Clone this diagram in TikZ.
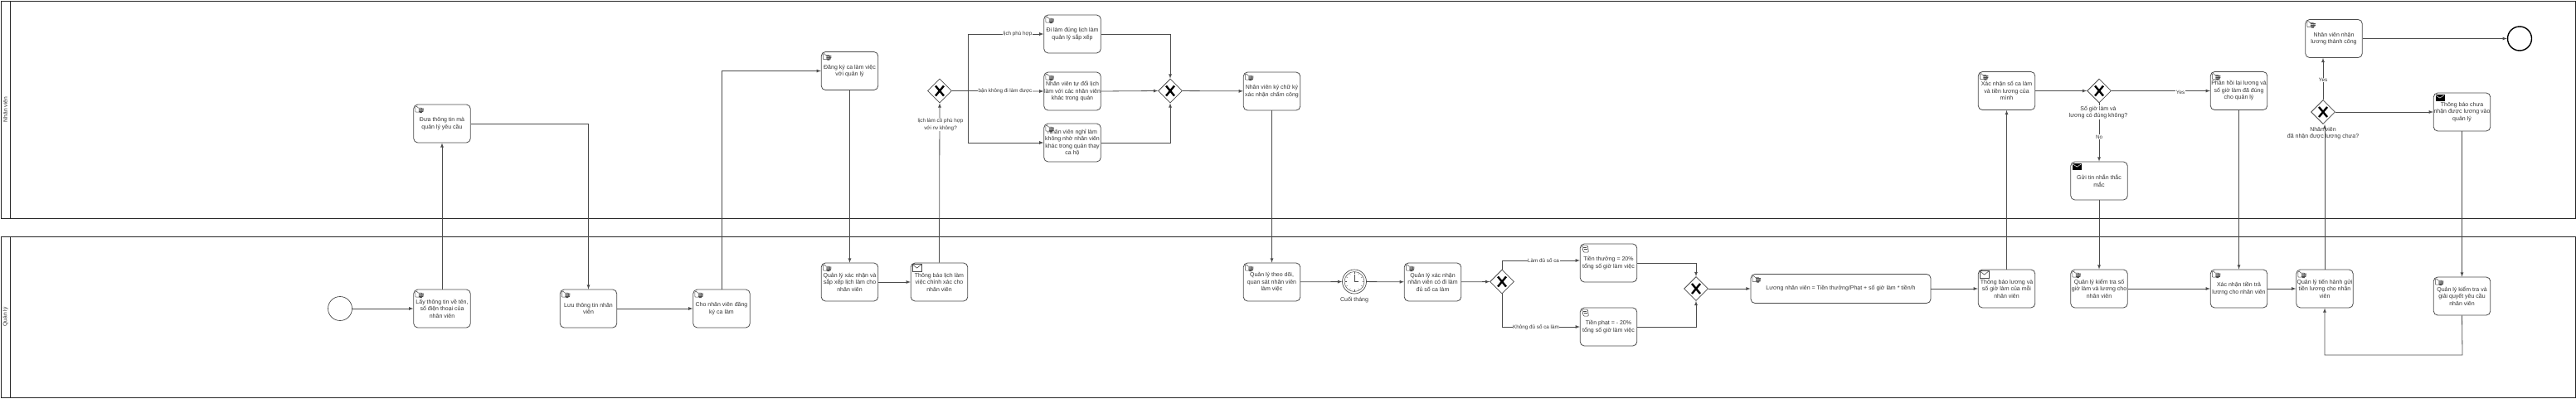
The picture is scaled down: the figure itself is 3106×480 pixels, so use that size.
\documentclass[tikz,border=0pt]{standalone}
\usepackage{fontspec}
\setmainfont{Liberation Sans}
\usetikzlibrary{shapes.geometric}
\definecolor{linegray}{gray}{0.3}
\definecolor{textgray}{gray}{0.2}
\tikzset{
	lane/.style={draw=black!85,line width=.9pt},
	lanetext/.style={rotate=90,text=textgray,font=\fontsize{6.7}{8}\selectfont},
	task/.style={draw=linegray,line width=.8pt,rounded corners=5pt,fill=white,minimum width=68.5pt,minimum height=46pt,inner sep=0pt,align=center,text=textgray,font=\fontsize{7}{8.5}\selectfont},
	gw/.style={draw=linegray,line width=.8pt,diamond,aspect=1,minimum width=29pt,minimum height=29pt,inner sep=0pt,fill=white},
	evt/.style={draw=linegray,line width=.7pt,circle,minimum size=29pt,inner sep=0pt},
	flow/.style={draw=linegray,line width=.8pt,-latex},
	plain/.style={draw=linegray,line width=.8pt},
	flowtext/.style={fill=white,inner sep=.6pt,align=center,text=textgray,font=\fontsize{6.3}{8.5}\selectfont},
	gwtext/.style={inner sep=0pt,align=center,text=textgray,font=\fontsize{7}{8.2}\selectfont},
	handicon/.pic={
		\draw[linegray,line width=.5pt,fill=white,rounded corners=.8pt] (0,0) -- (0,7) -- (8,7) -- (8,2) -- (3,2) -- (2,0) -- cycle;
		\fill[linegray] (4,2.6) rectangle (10,3.6) (4,4.2) rectangle (10,5.2) (4,5.8) rectangle (9.5,6.8) (8,7) rectangle (5,8);
	},
	scrollicon/.pic={
		\draw[linegray,line width=.6pt,fill=white,rounded corners=1pt] (0,0) -- (7,0) -- (8,8) -- (2,8) -- cycle;
		\draw[linegray,line width=.4pt] (2,2.5) -- (6,2.5) (2.5,4.5) -- (6.5,4.5);
	},
	mailicon/.pic={
		\draw[linegray,line width=.6pt,fill=white] (0,0) rectangle (11.5,8.5);
		\draw[linegray,line width=.6pt] (0,0) -- (5.75,4.5) -- (11.5,0);
	},
	mailfill/.pic={
		\draw[black,line width=.4pt,fill=black] (0,0) rectangle (10,7);
		\draw[white,line width=.5pt] (0,.8) -- (5,4) -- (10,.8);
	},
}
\begin{document}
\begin{tikzpicture}[x=1pt,y=-1pt]
	\useasboundingbox (0,0) rectangle (3106,480);
	%
	\draw[lane] (1,1) rectangle (3105,263);
	\draw[lane] (12,1) -- (12,263);
	\draw[lane] (1,285) rectangle (3105,479);
	\draw[lane] (12,285) -- (12,479);
	\node[lanetext] (nv) at (6.5,132) {Nhân viên};
	\node[lanetext] (ql) at (6.5,382) {Quản lý};
	%
	\node[evt] (start) at (410,372) {};
	\node[task] (a) at (533,149) {Đưa thông tin mà\\quản lý yêu cầu};
	\node[task] (b) at (533,372) {Lấy thông tin về tên,\\số điện thoại của\\nhân viên};
	\node[task] (c) at (709.5,372) {Lưu thông tin nhân\\viên};
	\node[task] (d) at (870,372) {Cho nhân viên đăng\\ký ca làm};
	\node[task] (e) at (1024.5,85.5) {Đăng ký ca làm việc\\với quản lý};
	\node[task] (f) at (1024.5,340) {Quản lý xác nhận và\\sắp xếp lịch làm cho\\nhân viên};
	\node[task] (g) at (1132.5,340) {Thông báo lịch làm\\việc chính xác cho\\nhân viên};
	\node[gw] (gwa) at (1133,109.5) {};
	\node[task] (h1) at (1293,41) {Đi làm đúng lịch làm\\quản lý sắp xếp};
	\node[task] (h2) at (1293,110) {Nhân viên tự đổi lịch\\làm với các nhân viên\\khác trong quán};
	\node[task] (h3) at (1293,172) {Nhân viên nghỉ làm\\không nhờ nhân viên\\khác trong quán thay\\ca hộ};
	\node[gw] (gwb) at (1411,109.5) {};
	\node[task] (i) at (1533.5,110) {Nhân viên ký chữ ký\\xác nhận chấm công};
	\node[task] (j) at (1533.5,340) {Quản lý theo dõi,\\quan sát nhân viên\\làm việc};
	\node[evt] (clk) at (1633,339.5) {};
	\node[gwtext] (cuoi) at (1633,361.5) {Cuối tháng};
	\node[task] (k) at (1727.5,340) {Quản lý xác nhận\\nhân viên có đi làm\\đủ số ca làm};
	\node[gw] (gwc) at (1811,339.5) {};
	\node[task] (l) at (1939.5,317) {Tiền thưởng = 20\%\\tổng số giờ làm việc};
	\node[task] (m) at (1939.5,394) {Tiền phạt = - 20\%\\tổng số giờ làm việc};
	\node[gw] (gwd) at (2045,348) {};
	\node[task,minimum width=217pt,minimum height=35pt] (n) at (2219.5,348) {Lương nhân viên = Tiền thưởng/Phạt + số giờ làm * tiền/h};
	\node[task] (o) at (2419.5,348) {Thông báo lương và\\số giờ làm của mỗi\\nhân viên};
	\node[task] (p) at (2531,348) {Quản lý kiểm tra số\\giờ làm và lương cho\\nhân viên};
	\node[task] (q) at (2699.5,348) {Xác nhận tiền trả\\lương cho nhân viên};
	\node[task] (r) at (2803,348) {Quản lý tiến hành gửi\\tiền lương cho nhân\\viên};
	\node[task] (s) at (2968.5,357) {Quản lý kiểm tra và\\giải quyết yêu cầu\\nhân viên};
	\node[task] (t) at (2419.5,109.5) {Xác nhận số ca làm\\và tiền lương của\\mình};
	\node[gw] (gwe) at (2531,109.5) {};
	\node[task] (u) at (2531,218) {Gửi tin nhắn thắc\\mắc};
	\node[task] (v) at (2699.5,109.5) {Phản hồi lại lương và\\số giờ làm đã đúng\\cho quản lý};
	\node[gw] (gwf) at (2801,135) {};
	\node[task] (w) at (2814,46.5) {Nhân viên nhận\\lương thành công};
	\node[task] (x) at (2968.5,135) {Thông báo chưa\\nhận được lương vào\\quản lý};
	\node[evt,line width=1.4pt,draw=black] (stop) at (3038,46.5) {};
	%
	\coordinate (bra) at (1167,109.5);
	\coordinate (lop) at (2969,428);
	%
	\draw[flow] (start) -- (b);
	\draw[flow] (b) -- (a);
	\draw[flow] (a.east) -| (c.north);
	\draw[flow] (c) -- (d);
	\draw[flow] (d.north) |- (e.west);
	\draw[flow] (e) -- (f);
	\draw[flow] (f) -- (g);
	\draw[flow] (g.north) -- (gwa.south);
	\draw[plain] (gwa.east) -- (bra);
	\draw[flow] (bra) |- (h1.west);
	\draw[flow] (bra) -- (h2.west);
	\draw[flow] (bra) |- (h3.west);
	\draw[flow] (h1.east) -| (gwb.north);
	\draw[flow] (h2.east) -- (gwb.west);
	\draw[flow] (h3.east) -| (gwb.south);
	\draw[flow] (gwb) -- (i);
	\draw[flow] (i) -- (j);
	\draw[flow] (j) -- (clk);
	\draw[flow] (clk) -- (k);
	\draw[flow] (k) -- (gwc);
	\draw[flow] (gwc.north) |- ([yshift=3pt]l.west);
	\draw[flow] (gwc.south) |- (m.west);
	\draw[flow] (l.east) -| (gwd.north);
	\draw[flow] (m.east) -| (gwd.south);
	\draw[flow] (gwd) -- (n);
	\draw[flow] (n) -- (o);
	\draw[flow] (o) -- (t);
	\draw[flow] (t) -- (gwe);
	\draw[flow] (gwe) -- (v);
	\draw[flow] (gwe) -- (u);
	\draw[flow] (u) -- (p);
	\draw[flow] (p) -- (q);
	\draw[flow] (v) -- (q);
	\draw[flow] (q) -- (r);
	\draw[flow] (r.north) -- (r.north |- gwf.south);
	\draw[flow] (gwf.north) -- (gwf.north |- w.south);
	\draw[flow] (gwf) -- (x);
	\draw[flow] (w) -- (stop);
	\draw[flow] (x) -- (s);
	\draw[flow] (s.south) -- (lop) -| (r.south);
	%
	\node[flowtext] (la) at (1227,41) {lịch phù hợp};
	\node[flowtext] (lb) at (1212,109.5) {bận không đi làm được};
	\node[flowtext] (lc) at (1134,150.5) {lịch làm có phù hợp\\với nv không?};
	\node[flowtext] (ld) at (1861,314) {Làm đủ số ca};
	\node[flowtext] (le) at (1852,395) {Không đủ số ca làm};
	\node[flowtext] (lf) at (2629,111) {Yes};
	\node[flowtext] (lg) at (2531,165) {No};
	\node[flowtext] (lh) at (2801,96.5) {Yes};
	\node[gwtext,fill=white,inner sep=.5pt] (li) at (2530,135.5) {Số giờ làm và\\lương có đúng không?};
	\node[gwtext] (lj) at (2801,161) {Nhân viên\\đã nhận được lương chưa?};
	%
	\foreach \g in {gwa,gwb,gwc,gwd,gwe,gwf}
	\draw[black,line width=2.4pt] ([shift={(-5,-6)}]\g.center) -- ([shift={(5,6)}]\g.center) ([shift={(5,-6)}]\g.center) -- ([shift={(-5,6)}]\g.center);
	\foreach \t in {a,b,c,d,e,f,h1,h2,h3,i,j,k,n,p,q,r,s,t,v,w}
	\pic at ([shift={(2.5,2.5)}]\t.north west) {handicon};
	\foreach \t in {l,m}
	\pic at ([shift={(2.5,2.5)}]\t.north west) {scrollicon};
	\foreach \t in {g,o}
	\pic at ([shift={(2,2)}]\t.north west) {mailicon};
	\foreach \t in {u,x}
	\pic at ([shift={(3,2.5)}]\t.north west) {mailfill};
	%
	\draw[plain,line width=.5pt] (clk.center) circle (12);
	\foreach \a in {0,30,...,330}
	\draw[linegray,line width=.3pt] ([shift={(\a:9.5)}]clk.center) -- ([shift={(\a:11.2)}]clk.center);
	\draw[linegray,line width=.5pt] ([shift={(0,-9)}]clk.center) -- (clk.center) -- ([shift={(5,0)}]clk.center);
\end{tikzpicture}
\end{document}
